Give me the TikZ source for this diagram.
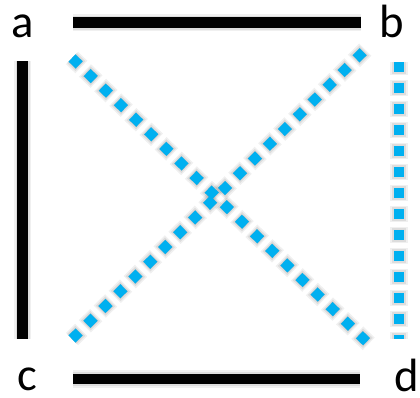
\documentclass[tikz,border=0pt]{standalone}
\usepackage{fontspec}
\setmainfont{Carlito}
\begin{document}
\begin{tikzpicture}[x=0.75pt,y=-0.75pt,
  lbl/.style={font=\fontsize{35}{40}\selectfont, anchor=base, inner sep=0pt},
  solidline/.style={line width=7.8pt, black},
  dotline/.style={line width=7.5pt, color={rgb,255:red,0;green,176;blue,240}, dash pattern=on 7.5pt off 8.25pt},
  shA/.style={line width=13pt, black, opacity=0.06},
  shB/.style={line width=10.5pt, black, opacity=0.08},
  shC/.style={line width=8pt, black, opacity=0.12},
  dA/.style={dash pattern=on 12pt off 3.75pt, dash phase=2.25pt},
  dB/.style={dash pattern=on 10pt off 5.75pt, dash phase=1.25pt},
  dC/.style={dash pattern=on 8pt off 7.75pt, dash phase=0.25pt},
]
\useasboundingbox (0,0) rectangle (420,397);
% labels
\node[lbl] (a) at (23,37) {a};
\node[lbl] (b) at (392,37) {b};
\node[lbl] (c) at (27,390) {c};
\node[lbl] (d) at (407,391) {d};
% endpoints
\coordinate (t1) at (73,22.5);  \coordinate (t2) at (361,22.5);
\coordinate (l1) at (22.5,61);  \coordinate (l2) at (22.5,339);
\coordinate (b1) at (73,379);   \coordinate (b2) at (360,379);
\coordinate (r1) at (399,62);   \coordinate (r2) at (399,339);
\coordinate (d1s) at (72,58);   \coordinate (d1e) at (370,345);
\coordinate (d2s) at (72,339);  \coordinate (d2e) at (368,47);
% shadows
\begin{scope}[shift={(4,5)}]
  \foreach \p/\q in {t1/t2,l1/l2,b1/b2}{
    \draw[shA] (\p) -- (\q);
    \draw[shB] (\p) -- (\q);
    \draw[shC] (\p) -- (\q);
  }
  \foreach \p/\q in {r1/r2,d1s/d1e,d2s/d2e}{
    \draw[shA, dA] (\p) -- (\q);
    \draw[shB, dB] (\p) -- (\q);
    \draw[shC, dC] (\p) -- (\q);
  }
\end{scope}
% solid lines
\draw[solidline] (t1) -- (t2);
\draw[solidline] (l1) -- (l2);
\draw[solidline] (b1) -- (b2);
% dotted lines
\draw[dotline] (r1) -- (r2);
\draw[dotline] (d1s) -- (d1e);
\draw[dotline] (d2s) -- (d2e);
\end{tikzpicture}
\end{document}
